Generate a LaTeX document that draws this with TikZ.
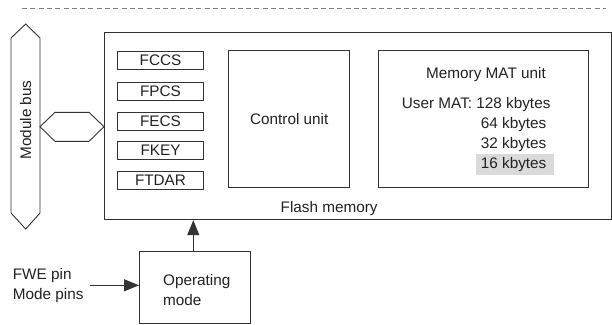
\documentclass[tikz,border=0pt]{standalone}
\usepackage{fontspec}
\setmainfont{Liberation Sans}
\usetikzlibrary{arrows.meta}
\definecolor{ln}{HTML}{333333}
\definecolor{tx}{HTML}{222222}
\definecolor{hl}{HTML}{DADADA}
\tikzset{
  boxline/.style={draw=ln, line width=0.9pt},
  regbox/.style={boxline, minimum width=85.6pt, minimum height=17.5pt, inner sep=0pt, text=tx},
  lbl/.style={inner sep=0pt, text=tx},
  arr/.style={draw=ln, line width=0.9pt, -{Triangle[length=15pt,width=12pt]}}
}
\begin{document}
\begin{tikzpicture}[x=1pt,y=-1pt, font=\fontsize{15.3}{18}\selectfont]
\useasboundingbox (0,0) rectangle (612,324);
% dashed top line
\draw[draw=gray, line width=0.9pt, dash pattern=on 5pt off 3.3pt] (22,8) -- (606,8);
% module bus
\draw[boxline] (25.7,24) -- (40,38) -- (40,213) -- (25.7,229) -- (11,213) -- (11,38) -- cycle;
\node[lbl, rotate=90] (bus) at (25.7,120) {Module bus};
% connector hexagon
\draw[boxline] (40,126.7) -- (55,112.3) -- (89,112.3) -- (104,126.7) -- (89,141.3) -- (55,141.3) -- cycle;
% flash memory box
\node[boxline, minimum width=507pt, minimum height=187pt, inner sep=0pt, anchor=north west] (flash) at (104,32.3) {};
\node[lbl, anchor=base west] (flashlbl) at (280.5,212) {Flash memory};
% registers
\node[regbox] (fccs) at (160.5,60.3) {FCCS};
\node[regbox] (fpcs) at (160.5,91.6) {FPCS};
\node[regbox] (fecs) at (160.5,121.3) {FECS};
\node[regbox] (fkey) at (160.5,150.5) {FKEY};
\node[regbox] (ftdar) at (160.5,180.5) {FTDAR};
% control unit
\node[boxline, minimum width=121pt, minimum height=137.3pt, inner sep=0pt, anchor=north west, text=tx] (ctrl) at (228.3,50) {Control unit};
% memory MAT unit
\node[boxline, minimum width=209.4pt, minimum height=137.3pt, inner sep=0pt, anchor=north west] (mat) at (378.3,50) {};
\fill[hl] (476,154) rectangle (554,175);
\node[lbl] (mattitle) at (486,74.5) {Memory MAT unit};
\node[lbl, anchor=base west] (u128) at (401.7,108.8) {User MAT: 128 kbytes};
\node[lbl, anchor=base west] (u64) at (480.7,128) {64 kbytes};
\node[lbl, anchor=base west] (u32) at (480.7,148.2) {32 kbytes};
\node[lbl, anchor=base west] (u16) at (480.7,168.2) {16 kbytes};
% operating mode
\node[boxline, minimum width=111pt, minimum height=72.3pt, inner sep=0pt, anchor=north west] (op) at (139,251) {};
\node[lbl, anchor=base west] (op1) at (163,285.5) {Operating};
\node[lbl, anchor=base west] (op2) at (163,305.5) {mode};
\draw[arr] (op.north -| 193.3,0) -- (flash.south -| 193.3,0);
% pins
\node[lbl, anchor=base west] (fwe) at (12.7,279.5) {FWE pin};
\node[lbl, anchor=base west] (mpins) at (12.7,299.5) {Mode pins};
\coordinate (pinstart) at (90,285.3);
\draw[arr] (pinstart) -- (op.west |- pinstart);
\end{tikzpicture}
\end{document}
